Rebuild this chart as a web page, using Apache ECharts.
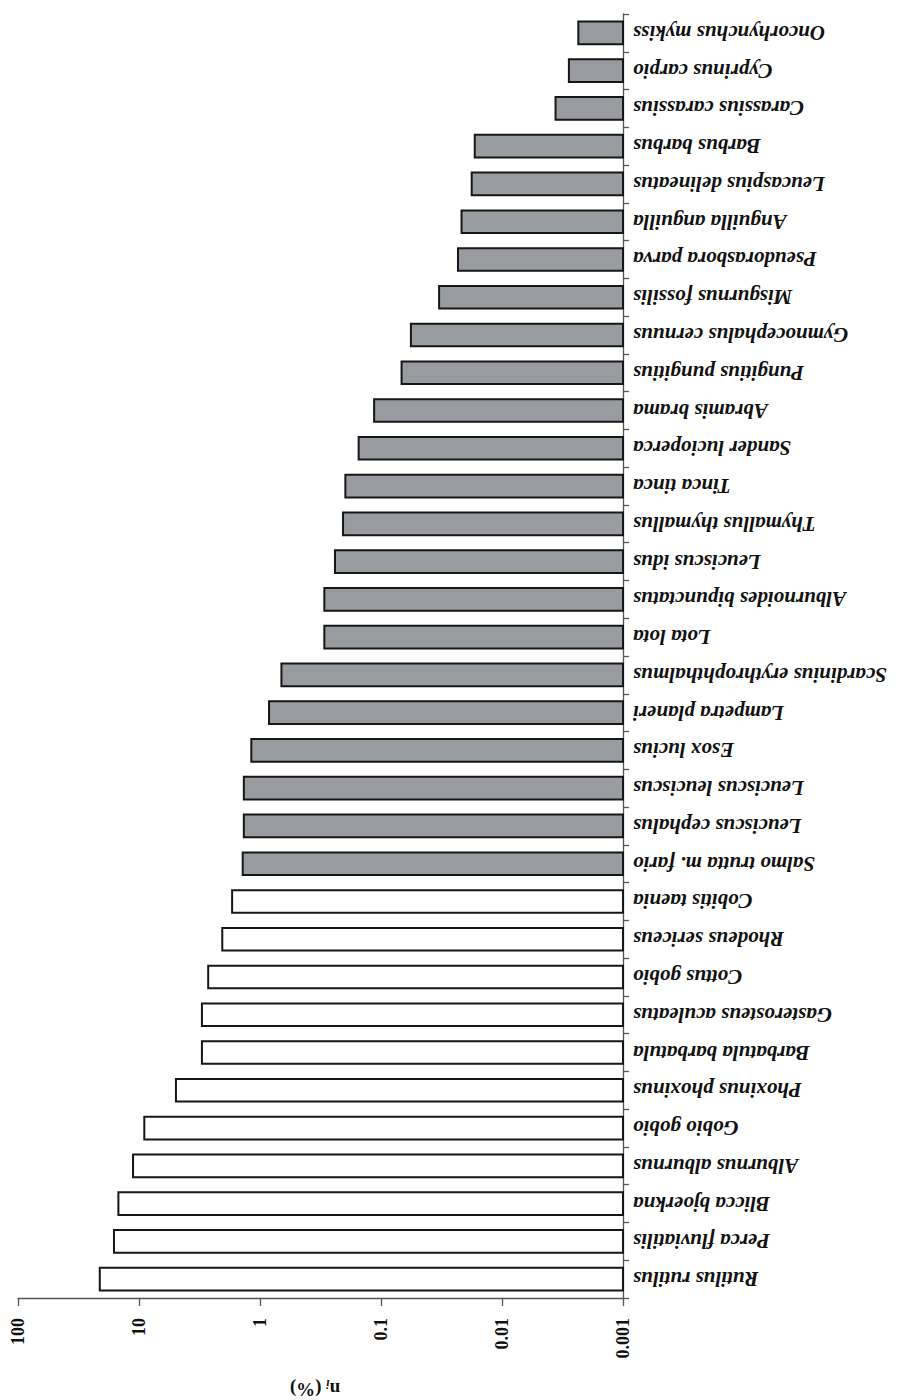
<!DOCTYPE html>
<html>
<head>
<meta charset="utf-8">
<title>n_i (%)</title>
<script src="https://cdn.jsdelivr.net/npm/echarts@6/dist/echarts.min.js"></script>
<style>
  html, body { margin: 0; padding: 0; background: #ffffff; }
  #chart { width: 897px; height: 1400px; }
</style>
</head>
<body>
<div id="chart"></div>
<script>
// Species with the largest shares (white bars), from the bottom of the axis upward
var speciesMain = [
  'Rutilus rutilus', 'Perca fluviatilis', 'Blicca bjoerkna', 'Alburnus alburnus',
  'Gobio gobio', 'Phoxinus phoxinus', 'Barbatula barbatula', 'Gasterosteus aculeatus',
  'Cottus gobio', 'Rhodeus sericeus', 'Cobitis taenia'
];
var shareMain = [21.1, 16.1, 14.8, 11.2, 9.04, 4.95, 3.02, 3.02, 2.68, 2.05, 1.70];

// Remaining species (grey bars)
var speciesRest = [
  'Salmo trutta m. fario', 'Leuciscus cephalus', 'Leuciscus leuciscus', 'Esox lucius',
  'Lampetra planeri', 'Scardinius erythrophthalmus', 'Lota lota', 'Alburnoides bipunctatus',
  'Leuciscus idus', 'Thymallus thymallus', 'Tinca tinca', 'Sander lucioperca',
  'Abramis brama', 'Pungitius pungitius', 'Gymnocephalus cernuus', 'Misgurnus fossilis',
  'Pseudorasbora parva', 'Anguilla anguilla', 'Leucaspius delineatus', 'Barbus barbus',
  'Carassius carassius', 'Cyprinus carpio', 'Oncorhynchus mykiss'
];
var shareRest = [
  1.39, 1.36, 1.36, 1.18,
  0.842, 0.665, 0.294, 0.294,
  0.240, 0.206, 0.197, 0.153,
  0.114, 0.0676, 0.0566, 0.0331,
  0.0231, 0.0216, 0.0178, 0.0168,
  0.00361, 0.00280, 0.00234
];

// Value axis ticks (log scale, one per decade)
var tickLabels = ['0.001', '0.01', '0.1', '1', '10', '100'];
var axisMin = 0.001;
var axisMax = 100;

var categories = speciesMain.concat(speciesRest);

function toItems(names, values) {
  return names.map(function (n, i) { return [values[i], n]; });
}

// Bars grow from the axis minimum, so each one is drawn as a rect between
// the coordinate of axisMin and the coordinate of its value.
function renderBar(params, api) {
  var cat = api.value(1);
  var v = api.value(0);
  var end = api.coord([v, cat]);
  var start = api.coord([axisMin, cat]);
  var band = api.size([1, 1])[1];
  var h = band * 0.6;
  return {
    type: 'rect',
    shape: {
      x: Math.min(start[0], end[0]),
      y: end[1] - h / 2,
      width: Math.abs(start[0] - end[0]),
      height: h
    },
    style: {
      fill: api.visual('color'),
      stroke: '#161616',
      lineWidth: 2
    }
  };
}

var chart = echarts.init(document.getElementById('chart'), null, { renderer: 'svg' });

chart.setOption({
  backgroundColor: '#ffffff',
  animation: false,
  grid: { left: 18, right: 274, top: 14, bottom: 102 },
  xAxis: {
    type: 'log',
    logBase: 10,
    min: axisMin,
    max: axisMax,
    splitNumber: 5,
    inverse: true,
    position: 'bottom',
    axisLine: { show: true, lineStyle: { color: '#555555', width: 1.3 } },
    axisTick: { show: true, length: 8, lineStyle: { color: '#555555', width: 1.3 } },
    splitLine: { show: false },
    axisLabel: {
      rotate: 90,
      margin: 20,
      color: '#111111',
      fontFamily: 'Liberation Serif',
      fontWeight: 'bold',
      fontSize: 18,
      formatter: function (v) {
        var idx = Math.round(Math.log10(v) - Math.log10(axisMin));
        return tickLabels[idx] !== undefined ? tickLabels[idx] : '';
      }
    }
  },
  yAxis: {
    type: 'category',
    data: categories,
    position: 'right',
    axisLine: { show: true, lineStyle: { color: '#555555', width: 1.3 } },
    axisTick: { show: true, length: 6, alignWithLabel: false, lineStyle: { color: '#555555', width: 1.3 } },
    splitLine: { show: false },
    axisLabel: {
      interval: 0,
      rotate: 180,
      margin: 10,
      color: '#111111',
      fontFamily: 'Liberation Serif',
      fontWeight: 'bold',
      fontStyle: 'italic',
      fontSize: 21
    }
  },
  series: [
    {
      name: 'main',
      type: 'custom',
      renderItem: renderBar,
      encode: { x: 0, y: 1 },
      itemStyle: { color: '#ffffff' },
      data: toItems(speciesMain, shareMain)
    },
    {
      name: 'rest',
      type: 'custom',
      renderItem: renderBar,
      encode: { x: 0, y: 1 },
      itemStyle: { color: '#989b9f' },
      data: toItems(speciesRest, shareRest)
    }
  ],
  graphic: [
    {
      type: 'text',
      x: 315,
      y: 1389,
      rotation: Math.PI,
      style: {
        text: '{a|n}{b|i}{a| (%)}',
        align: 'center',
        verticalAlign: 'middle',
        fill: '#111111',
        rich: {
          a: { fontFamily: 'Liberation Serif', fontWeight: 'bold', fontSize: 19, lineHeight: 22, verticalAlign: 'middle' },
          b: { fontFamily: 'Liberation Serif', fontWeight: 'bold', fontStyle: 'italic', fontSize: 12, lineHeight: 12, verticalAlign: 'bottom' }
        }
      }
    }
  ]
});
</script>
</body>
</html>
